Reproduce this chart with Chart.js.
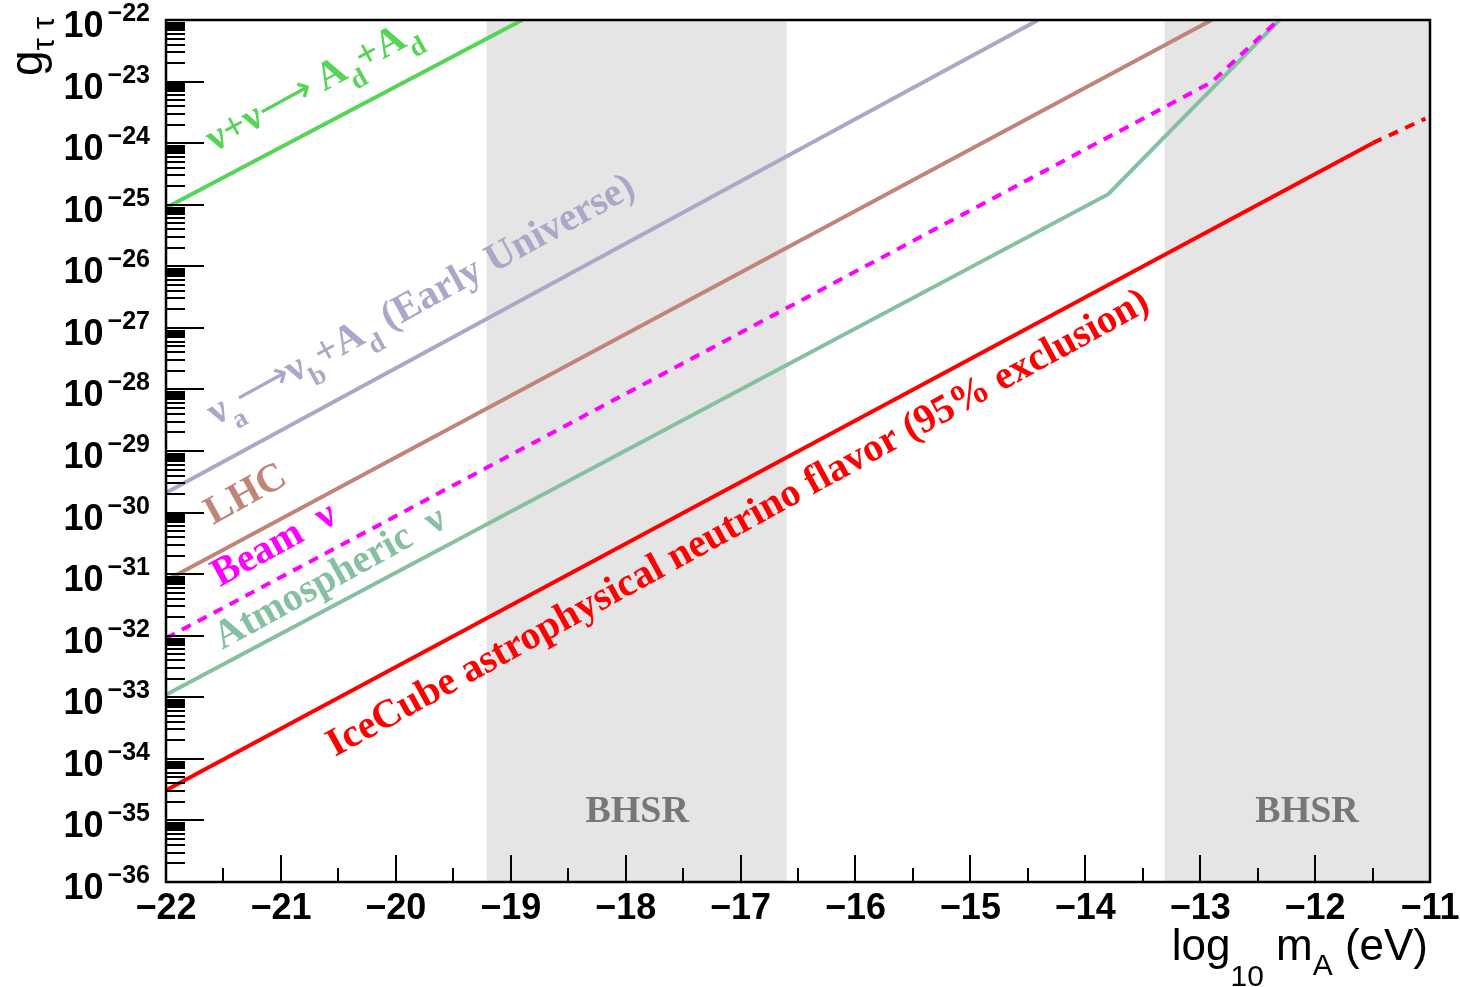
<!DOCTYPE html>
<html>
<head>
<meta charset="utf-8">
<script src="https://cdn.jsdelivr.net/npm/chart.js@4.4.0/dist/chart.umd.min.js"></script>
<style>
  html, body { margin: 0; padding: 0; background: #fff; }
</style>
</head>
<body>
<canvas id="myChart" width="1460" height="987"></canvas>
<script>
// axis ticks
var xTicks = [-22, -21, -20, -19, -18, -17, -16, -15, -14, -13, -12, -11];
var yDecades = [-36, -35, -34, -33, -32, -31, -30, -29, -28, -27, -26, -25, -24, -23, -22];
var yMinorSteps = [2, 3, 4, 5, 6, 7, 7.5, 8, 8.5, 9];

// limits, log10(m_A / eV) vs g_tautau
var nuNuMass = [-22, -18.9];
var nuNuG = [8.9e-26, 1e-22];
var earlyMass = [-22, -14.41];
var earlyG = [2.1e-30, 1e-22];
var lhcMass = [-22, -12.9];
var lhcG = [7.9e-32, 1e-22];
var beamMass = [-22, -12.9, -12.32];
var beamG = [9.1e-33, 9.8e-24, 1e-22];
var atmMass = [-22, -13.8, -12.31];
var atmG = [1.1e-33, 1.48e-25, 1e-22];
var iceMass = [-22, -11.5];
var iceG = [3.1e-35, 1e-24];
var iceExtMass = [-11.5, -11.04];
var iceExtG = [1e-24, 2.5e-24];

// black hole superradiance regions (log10 m_A)
var bhsrStart = [-19.21, -13.31];
var bhsrEnd = [-16.6, -11];
var bhsrLabelMass = [-17.9, -12.07];

function pts(xs, ys) {
    return xs.map(function (x, i) { return { x: x, y: ys[i] }; });
}

function line(label, xs, ys, color, dash) {
    return {
        label: label,
        data: pts(xs, ys),
        borderColor: color,
        borderWidth: 4,
        borderDash: dash || [],
        borderCapStyle: 'butt',
        pointRadius: 0,
        fill: false,
        tension: 0
    };
}

var SANS = '"Liberation Sans", Arial, Helvetica, sans-serif';
var SERIF = '"Liberation Serif", "Times New Roman", serif';

function drawRich(ctx, segs, x, y, angle, size, color, font, weight, subShift) {
    ctx.save();
    ctx.translate(x, y);
    ctx.rotate(angle);
    ctx.fillStyle = color;
    ctx.textBaseline = 'alphabetic';
    ctx.textAlign = 'left';
    var cx = 0;
    segs.forEach(function (s) {
        var fs = s.sub ? size * 0.68 : size;
        ctx.font = (s.thin ? 'normal' : weight) + ' ' + fs + 'px ' + font;
        ctx.fillText(s.t, cx, s.sub ? (s.shift || subShift || size * 0.3) : 0);
        cx += ctx.measureText(s.t).width;
    });
    ctx.restore();
}

function richWidth(ctx, segs, size, font, weight, subScale) {
    var w = 0;
    segs.forEach(function (s) {
        ctx.font = weight + ' ' + (s.sub ? size * subScale : size) + 'px ' + font;
        w += ctx.measureText(s.t).width;
    });
    return w;
}

// line labels: anchored at (mass, g) of the text's start
var lineLabels = [
    { x: -21.58, g: 7.2e-25, color: '#55d455',
      segs: [{ t: 'ν+ν' }, { t: '⟶ ', thin: true }, { t: 'A' }, { t: 'd', sub: true }, { t: '+A' }, { t: 'd', sub: true }] },
    { x: -21.57, g: 2.6e-29, color: '#aaa8c8',
      segs: [{ t: 'ν' }, { t: 'a', sub: true }, { t: '⟶', thin: true }, { t: 'ν' }, { t: 'b', sub: true }, { t: '+A' }, { t: 'd', sub: true }, { t: ' (Early Universe)' }] },
    { x: -21.59, g: 6.3e-31, color: '#c08478', segs: [{ t: 'LHC' }] },
    { x: -21.53, g: 6.2e-32, color: '#ff00ff', segs: [{ t: 'Beam  ν' }] },
    { x: -21.51, g: 5.9e-33, color: '#85c0a0', segs: [{ t: 'Atmospheric  ν' }] },
    { x: -20.53, g: 1.07e-34, color: '#ff0000', segs: [{ t: 'IceCube astrophysical neutrino flavor (95% exclusion)' }] }
];

var rootStyle = {
    id: 'rootStyle',
    beforeDatasetsDraw: function (chart) {
        var ctx = chart.ctx, a = chart.chartArea, xs = chart.scales.x;
        ctx.save();
        ctx.fillStyle = '#e5e5e5';
        bhsrStart.forEach(function (s, i) {
            var x0 = xs.getPixelForValue(s), x1 = xs.getPixelForValue(bhsrEnd[i]);
            ctx.fillRect(x0, a.top, x1 - x0, a.bottom - a.top);
        });
        ctx.fillStyle = '#777777';
        ctx.font = 'bold 38px ' + SERIF;
        ctx.textAlign = 'center';
        ctx.textBaseline = 'alphabetic';
        bhsrLabelMass.forEach(function (m) {
            ctx.fillText('BHSR', xs.getPixelForValue(m), chart.scales.y.getPixelForValue(9.3e-36));
        });
        ctx.restore();
    },
    afterDatasetsDraw: function (chart) {
        var ctx = chart.ctx, a = chart.chartArea, xs = chart.scales.x, ys = chart.scales.y;
        var angle = Math.atan2(ys.getPixelForValue(1e-23) - ys.getPixelForValue(1e-22),
            xs.getPixelForValue(-21) - xs.getPixelForValue(-22));
        angle = -Math.abs(angle) - 0.01;
        lineLabels.forEach(function (l) {
            drawRich(ctx, l.segs, xs.getPixelForValue(l.x), ys.getPixelForValue(l.g), angle, 40, l.color, SERIF, 'bold', 14);
        });

        ctx.save();
        // frame
        ctx.strokeStyle = '#000';
        ctx.lineWidth = 2.5;
        ctx.strokeRect(a.left, a.top, a.right - a.left, a.bottom - a.top);
        // y ticks
        ctx.lineWidth = 2;
        ctx.beginPath();
        yDecades.forEach(function (d) {
            var py = Math.round(ys.getPixelForValue(Math.pow(10, d)));
            ctx.moveTo(a.left, py); ctx.lineTo(a.left + 38, py);
            if (d < -22) {
                yMinorSteps.forEach(function (m) {
                    var p = Math.round(ys.getPixelForValue(m * Math.pow(10, d)));
                    ctx.moveTo(a.left, p); ctx.lineTo(a.left + 19, p);
                });
            }
        });
        // x ticks
        xTicks.forEach(function (v) {
            var px = Math.round(xs.getPixelForValue(v));
            ctx.moveTo(px, a.bottom); ctx.lineTo(px, a.bottom - 27);
            if (v < -11) {
                var ph = Math.round(xs.getPixelForValue(v + 0.5));
                ctx.moveTo(ph, a.bottom); ctx.lineTo(ph, a.bottom - 14);
            }
        });
        ctx.stroke();

        // y tick labels 10^n
        ctx.fillStyle = '#000';
        ctx.textBaseline = 'alphabetic';
        ctx.textAlign = 'left';
        yDecades.forEach(function (d) {
            var py = ys.getPixelForValue(Math.pow(10, d));
            var exp = '\u2212' + Math.abs(d);
            ctx.font = 'bold 25px ' + SANS;
            var we = ctx.measureText(exp).width;
            ctx.font = 'bold 36px ' + SANS;
            var wb = ctx.measureText('10').width;
            var right = a.left - 16;
            ctx.fillText('10', right - we - wb - 4, py + 17);
            ctx.font = 'bold 25px ' + SANS;
            ctx.fillText(exp, right - we, py + 1);
        });

        // y title
        var ySegs = [{ t: 'g' }, { t: 'τ τ', sub: true }];
        var yw = richWidth(ctx, ySegs, 46, SANS, 'normal', 0.68);
        drawRich(ctx, ySegs, 42, 17 + yw, -Math.PI / 2, 46, '#000', SANS, 'normal', 12);

        // x title
        var xSegs = [{ t: 'log' }, { t: '10', sub: true, shift: 26 }, { t: ' m' }, { t: 'A', sub: true, shift: 15 }, { t: ' (eV)' }];
        var xw = richWidth(ctx, xSegs, 44, SANS, 'normal', 0.68);
        drawRich(ctx, xSegs, 1428 - xw, 960, 0, 44, '#000', SANS, 'normal');
        ctx.restore();
    }
};

new Chart('myChart', {
    type: 'line',
    data: {
        datasets: [
            line('nu nu -> Ad Ad', nuNuMass, nuNuG, '#55d455'),
            line('Early Universe', earlyMass, earlyG, '#aaa8c8'),
            line('LHC', lhcMass, lhcG, '#c08478'),
            line('Beam nu', beamMass, beamG, '#ff00ff', [10, 8]),
            line('Atmospheric nu', atmMass, atmG, '#85c0a0'),
            line('IceCube', iceMass, iceG, '#ff0000'),
            line('IceCube extrapolated', iceExtMass, iceExtG, '#ff0000', [10, 8])
        ]
    },
    options: {
        responsive: false,
        animation: false,
        layout: { padding: { left: 166, right: 30, top: 20, bottom: 0 } },
        plugins: { legend: { display: false }, tooltip: { enabled: false } },
        scales: {
            x: {
                type: 'linear',
                min: -22,
                max: -11,
                afterBuildTicks: function (s) { s.ticks = xTicks.map(function (v) { return { value: v }; }); },
                afterFit: function (s) { s.height = 105; s.paddingLeft = 0; s.paddingRight = 0; },
                grid: { display: false, drawTicks: false },
                border: { display: false },
                ticks: {
                    color: '#000',
                    padding: 5,
                    maxRotation: 0,
                    autoSkip: false,
                    font: { family: SANS, size: 36, weight: 'bold' },
                    callback: function (v) { return (v < 0 ? '\u2212' : '') + Math.abs(v); }
                }
            },
            y: {
                type: 'logarithmic',
                display: false,
                min: 1e-36,
                max: 1e-22
            }
        }
    },
    plugins: [rootStyle]
});
</script>
</body>
</html>
